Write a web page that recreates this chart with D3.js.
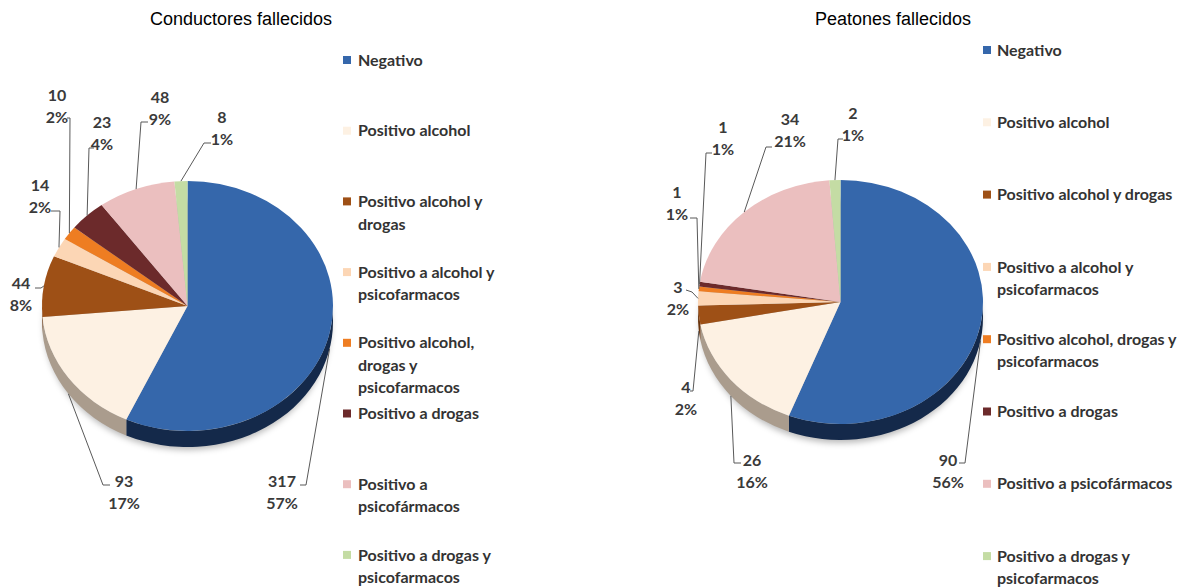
<!DOCTYPE html>
<html><head><meta charset="utf-8">
<script src="https://cdn.jsdelivr.net/npm/d3@7"></script>
<style>body{margin:0;background:#fff} svg{display:block}</style>
</head><body>
<svg id="c" width="1188" height="588"></svg>
<script>
// ---------- data ----------
const categories = ["Negativo","Positivo alcohol","Positivo alcohol y drogas","Positivo a alcohol y psicofarmacos","Positivo alcohol, drogas y psicofarmacos","Positivo a drogas","Positivo a psicofármacos","Positivo a drogas y psicofarmacos"];
const conductoresTitle = "Conductores fallecidos";
const conductoresValues = [317, 93, 44, 14, 10, 23, 48, 8];
const conductoresPercents = ["57%","17%","8%","2%","2%","4%","9%","1%"];
const conductoresLegend = [["Negativo"],["Positivo alcohol"],["Positivo alcohol y","drogas"],["Positivo a alcohol y","psicofarmacos"],["Positivo alcohol,","drogas y","psicofarmacos"],["Positivo a drogas"],["Positivo a","psicofármacos"],["Positivo a drogas y","psicofarmacos"]];
const peatonesTitle = "Peatones fallecidos";
const peatonesValues = [90, 26, 4, 3, 1, 1, 34, 2];
const peatonesPercents = ["56%","16%","2%","2%","1%","1%","21%","1%"];
const peatonesLegend = [["Negativo"],["Positivo alcohol"],["Positivo alcohol y drogas"],["Positivo a alcohol y","psicofarmacos"],["Positivo alcohol, drogas y","psicofarmacos"],["Positivo a drogas"],["Positivo a psicofármacos"],["Positivo a drogas y","psicofarmacos"]];

// ---------- styles ----------
const colors = ["#3567ab","#fdf1e3","#9e5016","#fcd6b5","#ee7d22","#6c2a2b","#ebbfbf","#c4dca4"];
const sideColors = ["#14294a","#aa9c8d","#6a340c","#b59a82","#a0531a","#451a1b","#a88686","#8ea070"];

// label layout: [textCenterX, line1Y, tickStartX, tickStartY, tickEndX, tickEndY]
const conductoresLabelLayout = [
  [282,481, 300,485, 306,485],
  [124,481, 110,485, 103,485],
  [21,283, 35,288, 41,288],
  [40,185, 51,211, 60,211],
  [57,95, 67,118, 70,118],
  [102,122, 94,148, 89,148],
  [160,97, 148,122, 141,122],
  [222,117, 211,143, 204,143]
];
const peatonesLabelLayout = [
  [948,460, 959,463, 965,463],
  [752,460, 741,463, 734,463],
  [686,387, 690,391, 693,391],
  [678,287, 686,290, 692,292],
  [677,192, 690,218, 697,218],
  [723,127, 712,153, 706,153],
  [790,119, 772,147, 766,147],
  [853,113, 843,139, 838,139]
];

const charts = [
  {title: conductoresTitle, values: conductoresValues, pcts: conductoresPercents, legend: conductoresLegend, layout: conductoresLabelLayout,
   cx:187.5, cy:306, rx:145.5, ry:125, depth:16, titleX:241, legX:343, legTextX:358, legY0:60, legStep:70.7},
  {title: peatonesTitle, values: peatonesValues, pcts: peatonesPercents, legend: peatonesLegend, layout: peatonesLabelLayout,
   cx:840.5, cy:302, rx:142.5, ry:122, depth:16, titleX:893, legX:983, legTextX:997, legY0:50, legStep:72.3}
];

const svg = d3.select("#c");
const defs = svg.append("defs");
defs.append("filter").attr("id","blur").attr("x","-20%").attr("y","-20%").attr("width","140%").attr("height","140%")
  .append("feGaussianBlur").attr("stdDeviation",3);

const labelFont = "Lato, 'Open Sans', sans-serif";

charts.forEach(cfg => {
  const g = svg.append("g");
  const {cx, cy, rx, ry, depth} = cfg;
  const arcs = d3.pie().sort(null).value(d => d)(cfg.values);
  const P = a => [cx + rx*Math.sin(a), cy - ry*Math.cos(a)];

  // title
  g.append("text").attr("x", cfg.titleX).attr("y", 19).attr("dy","0.35em")
    .attr("text-anchor","middle").attr("font-family","'Liberation Sans', Arial, sans-serif")
    .attr("font-size",18).attr("fill","#000").text(cfg.title);

  // shadow
  g.append("ellipse").attr("cx",cx).attr("cy",cy+depth+3).attr("rx",rx-2).attr("ry",ry)
    .attr("fill","rgba(0,0,0,0.28)").attr("filter","url(#blur)");

  // sides (front half)
  arcs.forEach((s,i) => {
    const a0 = Math.max(s.startAngle, Math.PI/2), a1 = Math.min(s.endAngle, 3*Math.PI/2);
    if (a1 <= a0) return;
    const p0 = P(a0), p1 = P(a1);
    const large = (a1 - a0) > Math.PI ? 1 : 0;
    const d = `M${p0[0]},${p0[1]}A${rx},${ry} 0 ${large} 1 ${p1[0]},${p1[1]}` +
              `L${p1[0]},${p1[1]+depth}A${rx},${ry} 0 ${large} 0 ${p0[0]},${p0[1]+depth}Z`;
    g.append("path").attr("d", d).attr("fill", sideColors[i]);
  });

  // top faces
  const arc = d3.arc().innerRadius(0).outerRadius(rx);
  g.append("g").attr("transform", `translate(${cx},${cy}) scale(1,${ry/rx})`)
    .selectAll("path").data(arcs).join("path")
    .attr("d", arc).attr("fill", (d,i) => colors[i]);

  // leader lines + labels
  arcs.forEach((s,i) => {
    const L = cfg.layout[i];
    const mid = (s.startAngle + s.endAngle)/2;
    const pt = P(mid);
    if (Math.cos(mid) < 0) pt[1] += depth;
    g.append("polyline")
      .attr("points", [[L[2],L[3]],[L[4],L[5]],pt].map(p => p.join(",")).join(" "))
      .attr("fill","none").attr("stroke","#595959").attr("stroke-width",1);
    const t = g.append("text").attr("text-anchor","middle").attr("font-family",labelFont)
      .attr("font-weight",700).attr("font-size",16).attr("fill","#3a3a3a");
    t.append("tspan").attr("x",L[0]).attr("y",L[1]).attr("dy","0.35em").text(cfg.values[i]);
    t.append("tspan").attr("x",L[0]).attr("y",L[1]+22).attr("dy","0.35em").text(cfg.pcts[i]);
  });

  // legend
  const ly = d3.scaleLinear().domain([0, categories.length-1])
    .range([cfg.legY0, cfg.legY0 + cfg.legStep*(categories.length-1)]);
  categories.forEach((c,i) => {
    const y = ly(i);
    g.append("rect").attr("x",cfg.legX).attr("y",y-4).attr("width",8).attr("height",8).attr("fill",colors[i]);
    const t = g.append("text").attr("font-family",labelFont).attr("font-weight",700)
      .attr("font-size",16).attr("fill","#333");
    cfg.legend[i].forEach((line,j) => {
      t.append("tspan").attr("x",cfg.legTextX).attr("y",y + j*22.5).attr("dy","0.35em").text(line);
    });
  });
});
</script>
</body></html>
